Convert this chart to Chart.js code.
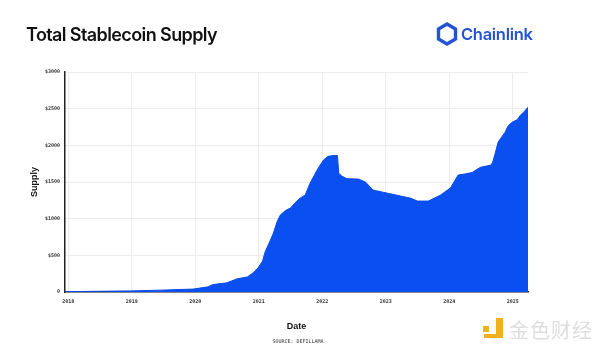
<!DOCTYPE html>
<html>
<head>
<meta charset="utf-8">
<script src="https://cdn.jsdelivr.net/npm/chart.js@4"></script>
<style>
  html, body { margin: 0; padding: 0; background: #fff; }
  #wrap { position: relative; width: 600px; height: 359px; overflow: hidden; }
  #grafico { position: absolute; left: 0; top: 0; }
  .titulo { position: absolute; left: 26px; top: 24px; font: 600 18px Inter, "Liberation Sans", sans-serif; color: #111; letter-spacing: -0.6px; }
  .logo { position: absolute; left: 436px; top: 22px; }
  .logo-txt { position: absolute; left: 461px; top: 24px; font: 600 16.5px Inter, "Liberation Sans", sans-serif; color: #2453d6; letter-spacing: -0.3px; }
  .fuente { position: absolute; left: 0; width: 596px; top: 338px; text-align: center; font: 5px "DejaVu Sans Mono", monospace; color: #333; }
  .marca { position: absolute; left: 509px; top: 315px; font: 20px "Noto Sans CJK SC", sans-serif; color: #dedede; letter-spacing: 1px; }
  .icono { position: absolute; left: 483px; top: 318px; width: 22px; height: 20px; }
</style>
</head>
<body>
<div id="wrap">
  <canvas id="grafico" width="600" height="359"></canvas>
  <div class="titulo">Total Stablecoin Supply</div>
  <svg class="logo" width="22" height="24" viewBox="0 0 22 24">
    <polygon points="11,2 19.5,7 19.5,17 11,22 2.5,17 2.5,7" fill="none" stroke="#2453d6" stroke-width="3.4"/>
  </svg>
  <div class="logo-txt">Chainlink</div>
  <div class="fuente">SOURCE: DEFILLAMA</div>
  <svg class="icono" viewBox="0 0 22 20">
    <rect x="0" y="8" width="6" height="6" fill="#f2b01e"/>
    <polygon points="13,0 20,0 20,20 1,20 1,16 13,16" fill="#f2b01e"/>
  </svg>
  <div class="marca">金色财经</div>
</div>
<script>
// Datos (año decimal y suministro)
const fechas = [2017.95, 2018.50, 2018.98, 2019.45, 2019.97, 2020.20, 2020.27, 2020.35, 2020.50,
  2020.66, 2020.82, 2020.91, 2020.99, 2021.06, 2021.10, 2021.17, 2021.23, 2021.29, 2021.34,
  2021.42, 2021.50, 2021.57, 2021.65, 2021.73, 2021.81, 2021.92, 2022.02, 2022.09, 2022.17,
  2022.24, 2022.26, 2022.31, 2022.39, 2022.57, 2022.68, 2022.80, 2022.96, 2023.23, 2023.39,
  2023.50, 2023.67, 2023.86, 2024.02, 2024.14, 2024.25, 2024.36, 2024.49, 2024.65, 2024.68,
  2024.72, 2024.77, 2024.88, 2024.93, 2025.00, 2025.07, 2025.12, 2025.17, 2025.24];
const suministro = [5, 10, 15, 25, 40, 70, 100, 110, 125,
  180, 205, 260, 330, 420, 545, 680, 800, 960, 1050,
  1110, 1145, 1215, 1280, 1320, 1485, 1665, 1800, 1850, 1860,
  1860, 1620, 1580, 1545, 1540, 1500, 1390, 1360, 1310, 1280,
  1240, 1240, 1320, 1420, 1595, 1610, 1630, 1700, 1730, 1760,
  1880, 2045, 2180, 2270, 2320, 2350, 2410, 2450, 2520];
const anios = [2018, 2019, 2020, 2021, 2022, 2023, 2024, 2025];
const ticksY = [0, 500, 1000, 1500, 2000, 2500, 3000];

const puntos = fechas.map((f, i) => ({ x: f, y: suministro[i] }));
const fuenteTick = { family: 'DejaVu Sans Mono', size: 5, weight: 'bold' };

new Chart(document.getElementById('grafico').getContext('2d'), {
  type: 'line',
  data: {
    datasets: [{
      label: 'Supply',
      data: puntos,
      backgroundColor: '#0a50f0',
      borderColor: '#0a4ce6',
      borderWidth: 1,
      pointRadius: 0,
      tension: 0,
      fill: 'origin'
    }]
  },
  options: {
    responsive: false,
    animation: false,
    layout: { padding: { top: 72, right: 72, left: 0, bottom: 0 } },
    plugins: { legend: { display: false }, tooltip: { enabled: false } },
    scales: {
      x: {
        type: 'linear',
        min: fechas[0],
        max: fechas[fechas.length - 1],
        afterFit: s => { s.height = 67; },
        afterBuildTicks: s => { s.ticks = anios.map(v => ({ value: v })); },
        grid: { color: '#ececec', drawTicks: false },
        border: { color: '#222', width: 1.5 },
        ticks: { font: fuenteTick, color: '#333', padding: 7, maxRotation: 0, autoSkip: false,
          callback: v => String(v) },
        title: { display: true, text: 'Date', color: '#111',
          font: { family: 'Liberation Sans', size: 9, weight: 'bold' }, padding: { bottom: 27 } }
      },
      y: {
        min: 0,
        max: 3000,
        afterFit: s => { s.width = 65; },
        afterBuildTicks: s => { s.ticks = ticksY.map(v => ({ value: v })); },
        grid: { color: '#ececec', drawTicks: false },
        border: { color: '#222', width: 1.5 },
        ticks: { font: fuenteTick, color: '#333', padding: 5,
          callback: v => v === 0 ? '0' : '$' + v },
        title: { display: true, text: 'Supply', color: '#111',
          font: { family: 'Liberation Sans', size: 9, weight: 'bold' }, padding: { top: 29 } }
      }
    }
  }
});
</script>
</body>
</html>
